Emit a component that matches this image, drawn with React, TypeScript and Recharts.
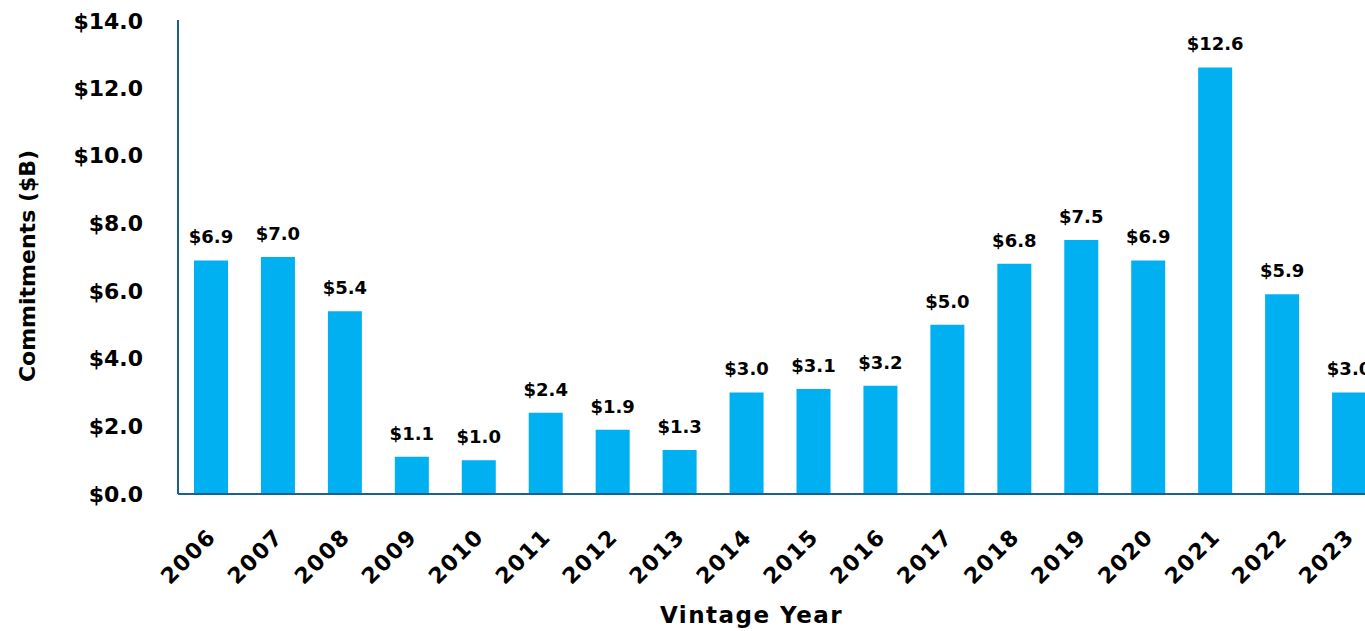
import { Bar, BarChart, LabelList, XAxis, YAxis, Label } from 'recharts'

const years = ['2006', '2007', '2008', '2009', '2010', '2011', '2012', '2013', '2014', '2015', '2016', '2017', '2018', '2019', '2020', '2021', '2022', '2023']
const commitments = [6.9, 7.0, 5.4, 1.1, 1.0, 2.4, 1.9, 1.3, 3.0, 3.1, 3.2, 5.0, 6.8, 7.5, 6.9, 12.6, 5.9, 3.0]
const yTicks = [0, 2, 4, 6, 8, 10, 12, 14]

const data = years.map((year, i) => ({ year, value: commitments[i] }))

const font = '"DejaVu Sans", sans-serif'
const axisColor = '#1d5f8f'
const barColor = '#00b0f0'

const money = (v: number) => `$${Number(v).toFixed(1)}`

function YearTick({ x, y, payload }: any) {
  return (
    <g transform={`translate(${x + 6},${y + 36}) rotate(-45)`}>
      <text textAnchor="end" fill="#000" fontFamily={font} fontWeight={700} fontSize={22} letterSpacing={1.5}>
        {payload.value}
      </text>
    </g>
  )
}

function XTitle({ viewBox }: any) {
  const { x, y, width, height } = viewBox
  return (
    <text x={x + width / 2 - 29} y={y + height - 8} textAnchor="middle" fill="#000" fontFamily={font} fontWeight={700} fontSize={23} letterSpacing={1.5}>
      Vintage Year
    </text>
  )
}

function YTitle({ viewBox }: any) {
  const { x, y, height } = viewBox
  const cx = x + 27
  const cy = y + height / 2 + 9
  return (
    <text x={cx} y={cy} transform={`rotate(-90, ${cx}, ${cy})`} textAnchor="middle" fill="#000" fontFamily={font} fontWeight={700} fontSize={22}>
      Commitments ($B)
    </text>
  )
}

export default function App() {
  return (
    <>
      <style>{'html, body { overflow: hidden; } body { margin: 8px 0 0 8px; }'}</style>
      <BarChart width={1375} height={623} data={data} margin={{ top: 12, right: 0, left: 0, bottom: 0 }} barSize={34}>
        <XAxis
          dataKey="year"
          height={137}
          tick={<YearTick />}
          tickLine={false}
          axisLine={{ stroke: axisColor, strokeWidth: 2 }}
          interval={0}
        >
          <Label content={<XTitle />} />
        </XAxis>
        <YAxis
          width={170}
          domain={[0, 14]}
          ticks={yTicks}
          tickFormatter={money}
          tick={{ fill: '#000', fontFamily: font, fontWeight: 700, fontSize: 22 }}
          tickLine={false}
          tickMargin={29}
          axisLine={{ stroke: axisColor, strokeWidth: 2 }}
        >
          <Label content={<YTitle />} />
        </YAxis>
        <Bar dataKey="value" fill={barColor} isAnimationActive={false}>
          <LabelList dataKey="value" position="top" offset={17} formatter={money} fill="#000" fontFamily={font} fontWeight={700} fontSize={18} />
        </Bar>
      </BarChart>
    </>
  )
}
